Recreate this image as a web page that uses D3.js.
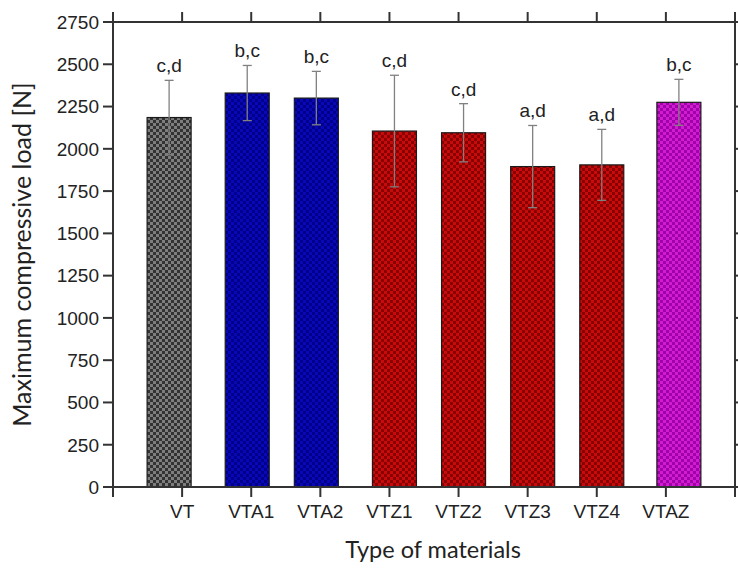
<!DOCTYPE html>
<html>
<head>
<meta charset="utf-8">
<script src="https://cdn.jsdelivr.net/npm/d3@7"></script>
<style>
  body { margin: 0; background: #fff; }
  svg { display: block; }
  .tick-label { font-family: "Liberation Sans", Arial, sans-serif; font-size: 19px; fill: #222; }
  .axis-title { font-family: Lato, "Open Sans", sans-serif; fill: #222; }
</style>
</head>
<body>
<div id="chart"></div>
<script>
// data
const materials = ['VT', 'VTA1', 'VTA2', 'VTZ1', 'VTZ2', 'VTZ3', 'VTZ4', 'VTAZ'];
const groups = ['VT', 'VTA', 'VTA', 'VTZ', 'VTZ', 'VTZ', 'VTZ', 'VTAZ'];
const meanLoad = [2185, 2330, 2300, 2105, 2095, 1895, 1905, 2275];
const sdLoad = [220, 163, 158, 330, 172, 243, 210, 136];
const letters = ['c,d', 'b,c', 'b,c', 'c,d', 'c,d', 'a,d', 'a,d', 'b,c'];
const yTicks = [0, 250, 500, 750, 1000, 1250, 1500, 1750, 2000, 2250, 2500, 2750];

const width = 738;
const height = 568;
const margin = {top: 22, right: 2, bottom: 81, left: 113};

// each group of columns is shifted a little, like the original grouped plot
const groupStyle = {
  VT:   {offset: -13, base: '#333333', alt: '#7e7e7e'},
  VTA:  {offset: -4,  base: '#0808b8', alt: '#000088'},
  VTZ:  {offset: 5,   base: '#c80a0a', alt: '#880000'},
  VTAZ: {offset: 13,  base: '#d21cd2', alt: '#a000a8'}
};
const barWidth = 44;

const svg = d3.select('#chart').append('svg')
    .attr('width', width)
    .attr('height', height);

const defs = svg.append('defs');
Object.entries(groupStyle).forEach(([key, s]) => {
  const p = defs.append('pattern')
      .attr('id', 'pat-' + key)
      .attr('patternUnits', 'userSpaceOnUse')
      .attr('width', 6)
      .attr('height', 6);
  p.append('rect').attr('width', 6).attr('height', 6).attr('fill', s.base);
  p.append('rect').attr('width', 3).attr('height', 3).attr('fill', s.alt);
  p.append('rect').attr('x', 3).attr('y', 3).attr('width', 3).attr('height', 3).attr('fill', s.alt);
});

const x = d3.scaleLinear()
    .domain([0, materials.length + 1])
    .range([margin.left, width - margin.right - 1]);

const y = d3.scaleLinear()
    .domain([0, 2750])
    .range([height - margin.bottom, margin.top]);

const x0 = x.range()[0], x1 = x.range()[1];
const y0 = y.range()[0], y1 = y.range()[1];
const xTickVals = d3.range(0, materials.length + 2);

// bars
const barX = i => x(i + 1) + groupStyle[groups[i]].offset;

svg.append('g')
  .selectAll('rect')
  .data(meanLoad)
  .join('rect')
    .attr('x', (d, i) => barX(i) - barWidth / 2)
    .attr('y', d => y(d))
    .attr('width', barWidth)
    .attr('height', d => y(0) - y(d))
    .attr('fill', (d, i) => `url(#pat-${groups[i]})`)
    .attr('stroke', '#1a1a1a')
    .attr('stroke-width', 1.2);

// error bars
const err = svg.append('g')
    .attr('stroke', '#808080')
    .attr('stroke-width', 1.3)
    .attr('fill', 'none');

meanLoad.forEach((m, i) => {
  const cx = barX(i);
  const hi = y(m + sdLoad[i]);
  const lo = y(m - sdLoad[i]);
  err.append('line').attr('x1', cx).attr('x2', cx).attr('y1', hi).attr('y2', lo);
  err.append('line').attr('x1', cx - 4.5).attr('x2', cx + 4.5).attr('y1', hi).attr('y2', hi);
  err.append('line').attr('x1', cx - 4.5).attr('x2', cx + 4.5).attr('y1', lo).attr('y2', lo);
});

// significance letters
svg.append('g')
  .selectAll('text')
  .data(letters)
  .join('text')
    .attr('class', 'tick-label')
    .attr('x', (d, i) => barX(i))
    .attr('y', (d, i) => y(meanLoad[i] + sdLoad[i]) - 8)
    .attr('text-anchor', 'middle')
    .text(d => d);

// frame and ticks
const axisColor = '#333';
const frame = svg.append('g')
    .attr('stroke', axisColor)
    .attr('stroke-width', 2)
    .attr('fill', 'none');

frame.append('rect')
    .attr('x', x0)
    .attr('y', y1)
    .attr('width', x1 - x0)
    .attr('height', y0 - y1);

const tickLen = 10;
yTicks.forEach(v => {
  frame.append('line').attr('x1', x0 - tickLen).attr('x2', x0).attr('y1', y(v)).attr('y2', y(v));
  frame.append('line').attr('x1', x1).attr('x2', x1 + tickLen).attr('y1', y(v)).attr('y2', y(v));
});
xTickVals.forEach(v => {
  frame.append('line').attr('x1', x(v)).attr('x2', x(v)).attr('y1', y0).attr('y2', y0 + tickLen);
  frame.append('line').attr('x1', x(v)).attr('x2', x(v)).attr('y1', y1 - tickLen).attr('y2', y1);
});

// tick labels
svg.append('g')
  .selectAll('text')
  .data(yTicks)
  .join('text')
    .attr('class', 'tick-label')
    .attr('x', x0 - tickLen - 4)
    .attr('y', d => y(d))
    .attr('dy', '0.36em')
    .attr('text-anchor', 'end')
    .text(d => d);

svg.append('g')
  .selectAll('text')
  .data(materials)
  .join('text')
    .attr('class', 'tick-label')
    .attr('x', (d, i) => x(i + 1))
    .attr('y', y0 + 31)
    .attr('text-anchor', 'middle')
    .text(d => d);

// axis titles
svg.append('text')
    .attr('class', 'axis-title')
    .attr('font-size', 23.5)
    .attr('x', (x0 + x1) / 2 + 9)
    .attr('y', height - 10)
    .attr('text-anchor', 'middle')
    .text('Type of materials');

svg.append('text')
    .attr('class', 'axis-title')
    .attr('font-size', 25)
    .attr('transform', `translate(31,${(y0 + y1) / 2}) rotate(-90)`)
    .attr('text-anchor', 'middle')
    .text('Maximum compressive load [N]');
</script>
</body>
</html>
